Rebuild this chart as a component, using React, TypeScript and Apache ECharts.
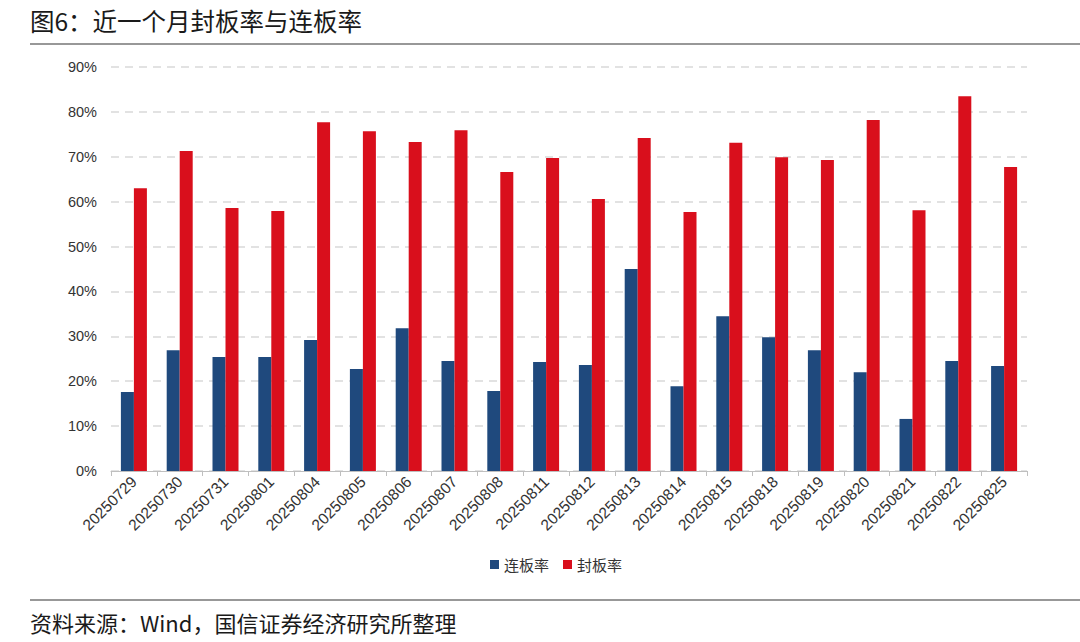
import React, { useEffect, useRef } from "react";
import * as echarts from "echarts";

const categories = [
  "20250729", "20250730", "20250731", "20250801", "20250804", "20250805", "20250806",
  "20250807", "20250808", "20250811", "20250812", "20250813", "20250814", "20250815",
  "20250818", "20250819", "20250820", "20250821", "20250822", "20250825",
];
const lianBan = [17.6, 26.9, 25.4, 25.4, 29.2, 22.7, 31.8, 24.5, 17.8, 24.3, 23.6, 45.0, 18.9, 34.5, 29.8, 26.9, 22.0, 11.6, 24.5, 23.4];
const fengBan = [63.0, 71.3, 58.6, 57.9, 77.7, 75.7, 73.3, 75.9, 66.6, 69.7, 60.6, 74.2, 57.7, 73.1, 69.9, 69.3, 78.2, 58.1, 83.5, 67.7];
const seriesNames = ["连板率", "封板率"];
const titleText = "图6：近一个月封板率与连板率";
const sourceText = "资料来源：Wind，国信证券经济研究所整理";

export default function App() {
  const ref = useRef<HTMLDivElement>(null);
  useEffect(() => {
    if (!ref.current) return;
    const chart = echarts.init(ref.current, undefined, { renderer: "svg" });
    const cjk = '"Noto Sans CJK SC", "Noto Sans", sans-serif';
    const latin = '"Liberation Sans", Arial, sans-serif';
    chart.setOption({
      animation: false,
      backgroundColor: "#ffffff",
      grid: { left: 111, right: 53, top: 67, bottom: 171, containLabel: false },
      legend: {
        data: seriesNames,
        left: 485,
        top: 552,
        itemWidth: 9,
        itemHeight: 9,
        itemGap: 14,
        icon: "rect",
        textStyle: { fontFamily: cjk, fontSize: 15, color: "#333333" },
      },
      xAxis: {
        type: "category",
        data: categories,
        boundaryGap: true,
        axisLine: { lineStyle: { color: "#bfbfbf", width: 1 } },
        axisTick: { show: true, length: 5, lineStyle: { color: "#bfbfbf" } },
        axisLabel: {
          rotate: 45,
          interval: 0,
          fontFamily: latin,
          fontSize: 15.5,
          color: "#333333",
          margin: 8,
        },
      },
      yAxis: {
        type: "value",
        min: 0,
        max: 90,
        interval: 10,
        axisLine: { show: false },
        axisTick: { show: false },
        axisLabel: {
          formatter: "{value}%",
          fontFamily: latin,
          fontSize: 14.5,
          color: "#333333",
          margin: 14,
        },
        splitLine: { lineStyle: { color: "#d9d9d9", width: 1.5, type: [8, 6] } },
      },
      series: [
        {
          name: seriesNames[0],
          type: "bar",
          data: lianBan,
          barWidth: 13,
          barGap: "0%",
          itemStyle: { color: "#1f497d" },
        },
        {
          name: seriesNames[1],
          type: "bar",
          data: fengBan,
          barWidth: 13,
          barGap: "0%",
          itemStyle: { color: "#d90f1c" },
        },
      ],
      graphic: [
        {
          type: "text",
          left: 30,
          top: 8,
          style: { text: titleText, fontFamily: cjk, fontSize: 24.5, fill: "#1a1a1a" },
        },
        {
          type: "line",
          shape: { x1: 30, y1: 44, x2: 1080, y2: 44 },
          style: { stroke: "#333333", lineWidth: 1.2 },
        },
        {
          type: "line",
          shape: { x1: 30, y1: 600, x2: 1080, y2: 600 },
          style: { stroke: "#333333", lineWidth: 1.2 },
        },
        {
          type: "text",
          left: 30,
          top: 611,
          style: { text: sourceText, fontFamily: cjk, fontSize: 22, fill: "#1a1a1a" },
        },
      ],
    });
    return () => chart.dispose();
  }, []);
  return (
    <div
      ref={ref}
      style={{ position: "fixed", left: 0, top: 0, width: 1080, height: 642 }}
    />
  );
}
